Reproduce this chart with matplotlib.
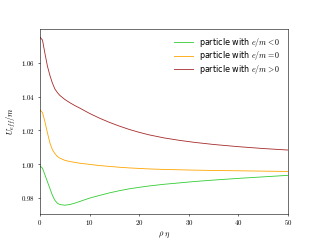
import numpy as np
import matplotlib
matplotlib.use('Agg')
import matplotlib.pyplot as plt
from matplotlib.ticker import FuncFormatter

plt.rcParams['mathtext.fontset'] = 'cm'

# Valores
rho_eta = [0, 0.5, 1, 1.5, 2, 2.5, 3, 3.5, 4, 5, 6, 7, 8, 10, 12, 14, 16,
           18, 20, 22, 25, 28, 31, 35, 40, 45, 50]

U_neg = [0.9988, 0.9975, 0.9935, 0.9895, 0.9855, 0.9815, 0.9785, 0.9768,
         0.9760, 0.9756, 0.9760, 0.9768, 0.9778, 0.9798, 0.9814, 0.9829,
         0.9842, 0.9853, 0.9862, 0.9870, 0.9880, 0.9888, 0.9896, 0.9905,
         0.9915, 0.9924, 0.9933]

U_zero = [1.0320, 1.0305, 1.0250, 1.0185, 1.0125, 1.0085, 1.0062, 1.0045,
          1.0035, 1.0022, 1.0015, 1.0010, 1.0005, 0.9998, 0.9991, 0.9986,
          0.9981, 0.9977, 0.9974, 0.9971, 0.9968, 0.9966, 0.9964, 0.9962,
          0.9960, 0.9958, 0.9956]

U_pos = [1.0752, 1.0735, 1.0655, 1.0580, 1.0525, 1.0480, 1.0445, 1.0424,
         1.0407, 1.0383, 1.0364, 1.0347, 1.0332, 1.0300, 1.0272, 1.0247,
         1.0225, 1.0205, 1.0188, 1.0173, 1.0155, 1.0141, 1.0129, 1.0116,
         1.0103, 1.0092, 1.0083]

fig, ax = plt.subplots(figsize=(6.4, 4.8), dpi=50)
ax.plot(rho_eta, U_neg, color='limegreen', lw=1.2, label=r'particle with $e/m<0$')
ax.plot(rho_eta, U_zero, color='orange', lw=1.2, label=r'particle with $e/m=0$')
ax.plot(rho_eta, U_pos, color='brown', lw=1.2, label=r'particle with $e/m>0$')

ax.set_xlim(0, 50)
ax.set_yticks([0.98, 1.00, 1.02, 1.04, 1.06])
ax.xaxis.set_major_formatter(FuncFormatter(lambda v, p: rf'${v:.0f}$'))
ax.yaxis.set_major_formatter(FuncFormatter(lambda v, p: rf'${v:.2f}$'))
ax.set_xlabel(r'$\rho\ \eta$', fontsize=12)
ax.set_ylabel(r'$U_{eff}/m$', fontsize=12)
ax.legend(loc='upper right', frameon=False, fontsize=11.5, labelspacing=0.05,
          handlelength=2.3)

plt.savefig('out.png', dpi=50)
